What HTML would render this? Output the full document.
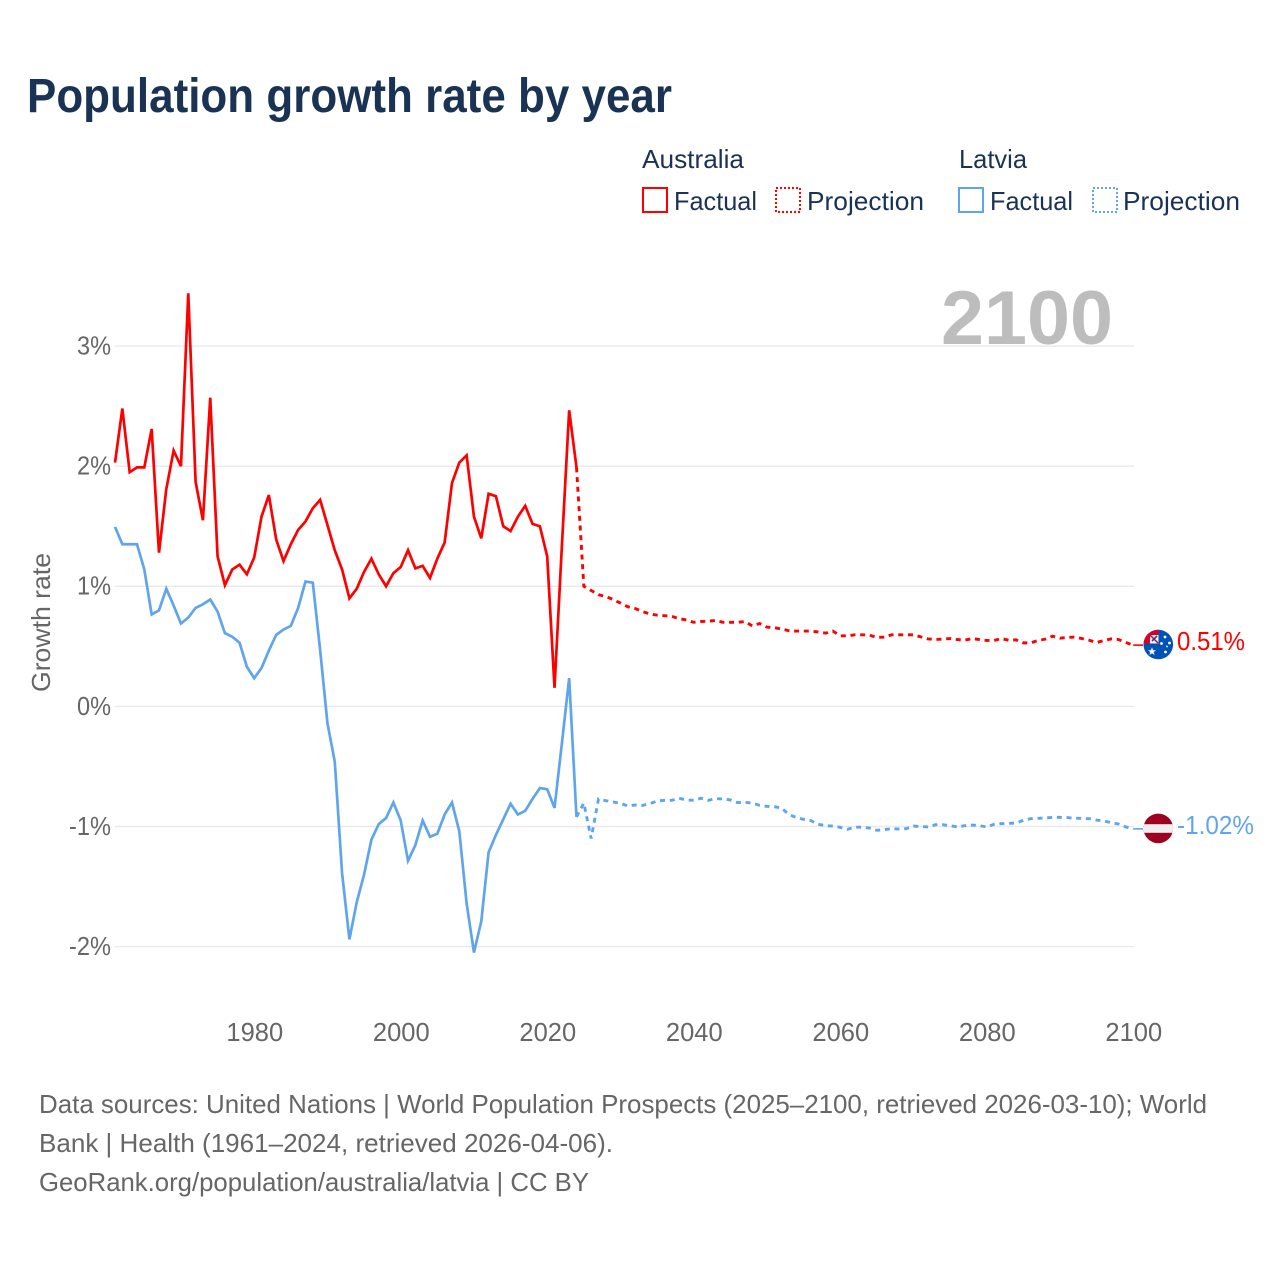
<!DOCTYPE html>
<html lang="en">
<head>
<meta charset="utf-8">
<title>Population growth rate by year</title>
<style>
html,body{margin:0;padding:0;background:#fff;width:1280px;height:1280px;overflow:hidden}
svg{display:block}
text{font-family:"Liberation Sans",Arial,sans-serif}
</style>
</head>
<body>
<svg id="chart" width="1280" height="1280" viewBox="0 0 1280 1280" xmlns="http://www.w3.org/2000/svg">
  <text x="27" y="112" font-size="48" font-weight="700" fill="#1a3354" textLength="645" lengthAdjust="spacingAndGlyphs">Population growth rate by year</text>

  <g font-size="26" fill="#1a3354">
    <text x="642" y="168" textLength="102" lengthAdjust="spacingAndGlyphs">Australia</text>
    <text x="959" y="168" textLength="68" lengthAdjust="spacingAndGlyphs">Latvia</text>
    <rect x="643" y="188" width="24" height="24" fill="none" stroke="#ff0000" stroke-width="2"/>
    <text x="674" y="210" textLength="83" lengthAdjust="spacingAndGlyphs">Factual</text>
    <rect x="776" y="188" width="24" height="24" fill="none" stroke="#ff0000" stroke-width="2" stroke-dasharray="2 2"/>
    <text x="807" y="210" textLength="117" lengthAdjust="spacingAndGlyphs">Projection</text>
    <rect x="959" y="188" width="24" height="24" fill="none" stroke="#60a5ec" stroke-width="2"/>
    <text x="990" y="210" textLength="83" lengthAdjust="spacingAndGlyphs">Factual</text>
    <rect x="1093" y="188" width="24" height="24" fill="none" stroke="#60a5ec" stroke-width="2" stroke-dasharray="2 2"/>
    <text x="1123" y="210" textLength="117" lengthAdjust="spacingAndGlyphs">Projection</text>
  </g>

  <g id="grid"></g>
  <g id="yTicks"></g>
  <g id="xTicks"></g>

  <text transform="translate(50,692) rotate(-90)" font-size="26" fill="#666666" textLength="139" lengthAdjust="spacingAndGlyphs">Growth rate</text>

  <text x="941" y="344" font-size="76" font-weight="700" fill="#bdbdbd" textLength="172" lengthAdjust="spacingAndGlyphs">2100</text>

  <g id="series"></g>

  <defs>
    <clipPath id="flagClipAu"><circle cx="1158.3" cy="644.5" r="14.8"/></clipPath>
    <clipPath id="flagClipLv"><circle cx="1158.3" cy="828.4" r="14.8"/></clipPath>
  </defs>

  <g clip-path="url(#flagClipAu)">
    <rect x="1143" y="629" width="31" height="32" fill="#0052b4"/>
    <rect x="1143" y="629" width="15.5" height="14.5" fill="#d80027"/>
    <rect x="1150" y="635" width="8.5" height="8.5" fill="#f4f4f4"/>
    <path d="M1150 635 L1158 643" stroke="#d80027" stroke-width="1.5"/>
    <path d="M1152 641 L1157 636" stroke="#0052b4" stroke-width="1.6"/>
    <polygon points="1152,647.3 1153.1,650.2 1156,650.2 1153.7,652.1 1154.6,655 1152,653.3 1149.4,655 1150.3,652.1 1148,650.2 1150.9,650.2" fill="#fff"/>
    <circle cx="1165.5" cy="652" r="1.4" fill="#fff"/>
    <circle cx="1169.5" cy="643" r="1.4" fill="#fff"/>
    <circle cx="1165" cy="637" r="1.4" fill="#fff"/>
    <circle cx="1161.5" cy="643.5" r="1.4" fill="#fff"/>
    <circle cx="1167" cy="646.5" r="0.9" fill="#fff"/>
  </g>

  <g clip-path="url(#flagClipLv)">
    <rect x="1143" y="813" width="31" height="31" fill="#9e0022"/>
    <rect x="1143" y="824.2" width="31" height="8.6" fill="#efefef"/>
  </g>

  <g id="endLabels"></g>

  <g font-size="26" fill="#666666">
    <text x="39" y="1113" textLength="1168" lengthAdjust="spacingAndGlyphs">Data sources: United Nations | World Population Prospects (2025–2100, retrieved 2026-03-10); World</text>
    <text x="39" y="1152" textLength="574" lengthAdjust="spacingAndGlyphs">Bank | Health (1961–2024, retrieved 2026-04-06).</text>
    <text x="39" y="1191" textLength="550" lengthAdjust="spacingAndGlyphs">GeoRank.org/population/australia/latvia | CC BY</text>
  </g>
</svg>

<script>
const yTickValues = [3, 2, 1, 0, -1, -2];
const yTickLabels = ['3%', '2%', '1%', '0%', '-1%', '-2%'];
const xTickValues = [1980, 2000, 2020, 2040, 2060, 2080, 2100];
const xTickLabels = ['1980', '2000', '2020', '2040', '2060', '2080', '2100'];

const factualStartYear = 1961;
const projectionStartYear = 2024;

const australiaFactual = [
  2.03, 2.48, 1.95, 1.99, 1.99, 2.31, 1.28, 1.81, 2.13, 2.00,
  3.44, 1.87, 1.55, 2.57, 1.25, 1.01, 1.14, 1.18, 1.10, 1.24,
  1.58, 1.76, 1.39, 1.21, 1.35, 1.47, 1.54, 1.65, 1.72, 1.51,
  1.30, 1.14, 0.90, 0.98, 1.12, 1.23, 1.10, 1.00, 1.11, 1.16,
  1.30, 1.15, 1.17, 1.07, 1.23, 1.365, 1.86, 2.03, 2.09, 1.58,
  1.40, 1.77, 1.75, 1.50, 1.46, 1.58, 1.67, 1.52, 1.50, 1.25,
  0.155, 1.33, 2.465, 1.99
];
const latviaFactual = [
  1.495, 1.35, 1.35, 1.35, 1.14, 0.765, 0.80, 0.98, 0.84, 0.69,
  0.74, 0.82, 0.85, 0.89, 0.79, 0.61, 0.58, 0.53, 0.33, 0.235,
  0.32, 0.465, 0.595, 0.64, 0.67, 0.82, 1.04, 1.03, 0.47, -0.14,
  -0.46, -1.39, -1.94, -1.63, -1.40, -1.11, -0.98, -0.93, -0.80, -0.95,
  -1.285, -1.155, -0.95, -1.085, -1.06, -0.90, -0.80, -1.04, -1.64, -2.05,
  -1.79, -1.215, -1.07, -0.94, -0.81, -0.90, -0.87, -0.77, -0.68, -0.69,
  -0.845, -0.31, 0.235, -0.92
];
const australiaProjection = [
  1.99, 1.00, 0.965, 0.93, 0.915, 0.89, 0.86, 0.83, 0.815, 0.79,
  0.77, 0.76, 0.755, 0.75, 0.73, 0.72, 0.70, 0.707, 0.71, 0.715,
  0.70, 0.70, 0.70, 0.707, 0.67, 0.69, 0.66, 0.655, 0.645, 0.63,
  0.627, 0.627, 0.627, 0.62, 0.61, 0.627, 0.588, 0.588, 0.596, 0.596,
  0.593, 0.574, 0.577, 0.596, 0.596, 0.596, 0.596, 0.579, 0.562, 0.557,
  0.560, 0.565, 0.557, 0.551, 0.565, 0.557, 0.549, 0.549, 0.565, 0.551,
  0.554, 0.529, 0.529, 0.549, 0.560, 0.585, 0.568, 0.574, 0.577, 0.565,
  0.551, 0.532, 0.549, 0.562, 0.557, 0.532, 0.51
];
const latviaProjection = [
  -0.92, -0.805, -1.10, -0.771, -0.785, -0.796, -0.807, -0.829, -0.821, -0.824,
  -0.810, -0.788, -0.782, -0.782, -0.765, -0.779, -0.782, -0.765, -0.782, -0.768,
  -0.771, -0.779, -0.801, -0.799, -0.804, -0.824, -0.832, -0.835, -0.846, -0.901,
  -0.924, -0.940, -0.951, -0.982, -0.993, -0.996, -1.007, -1.024, -1.004, -1.007,
  -1.013, -1.032, -1.026, -1.018, -1.021, -1.018, -0.996, -1.001, -1.004, -0.985,
  -0.985, -0.993, -1.004, -0.993, -0.988, -0.993, -1.004, -0.982, -0.976, -0.974,
  -0.971, -0.949, -0.935, -0.932, -0.929, -0.924, -0.924, -0.926, -0.932, -0.932,
  -0.935, -0.946, -0.954, -0.968, -0.979, -1.004, -1.02
];
const endValues = [0.51, -1.02];
const endLabels = ['0.51%', '-1.02%'];

const svgNS = 'http://www.w3.org/2000/svg';
const RED = '#ff0000';
const BLUE = '#60a5ec';

function xScale(year) { return 254.2 + (year - 1980) * 7.325; }
function yScale(value) { return 706.4 - value * 120.1; }

function makeEl(tag, parentId, attrs) {
  const el = document.createElementNS(svgNS, tag);
  Object.keys(attrs).forEach(function (k) { el.setAttribute(k, attrs[k]); });
  document.getElementById(parentId).appendChild(el);
  return el;
}

function linePath(startYear, values) {
  return values.map(function (v, i) {
    return (i === 0 ? 'M' : 'L') + xScale(startYear + i).toFixed(2) + ' ' + yScale(v).toFixed(2);
  }).join(' ');
}

yTickValues.forEach(function (v, i) {
  const line = makeEl('line', 'grid', {
    x1: 115, x2: 1134, y1: yScale(v), y2: yScale(v),
    stroke: '#e9e9e9', 'stroke-width': 1.4
  });
  
  

  const label = makeEl('text', 'yTicks', {
    x: 111, y: yScale(v) + 8.4, 'text-anchor': 'end', 'font-size': 26, fill: '#666666',
    textLength: yTickLabels[i].length === 2 ? 34 : 42, lengthAdjust: 'spacingAndGlyphs'
  });
  label.textContent = yTickLabels[i];
  
  
});

xTickValues.forEach(function (v, i) {
  const label = makeEl('text', 'xTicks', {
    x: xScale(v) + 0.6, y: 1041, 'text-anchor': 'middle', 'font-size': 25.5, fill: '#666666'
  });
  label.textContent = xTickLabels[i];
  
  
});

const auFactualLine = makeEl('path', 'series', {
  d: linePath(factualStartYear, australiaFactual), fill: 'none', stroke: RED,
  'stroke-width': 2.7, 'stroke-linejoin': 'miter'
});



const lvFactualLine = makeEl('path', 'series', {
  d: linePath(factualStartYear, latviaFactual), fill: 'none', stroke: BLUE,
  'stroke-width': 2.7, 'stroke-linejoin': 'miter'
});



const auProjectionLine = makeEl('path', 'series', {
  d: linePath(projectionStartYear, australiaProjection), fill: 'none', stroke: RED,
  'stroke-width': 2.9, 'stroke-dasharray': '5 4.7'
});



const lvProjectionLine = makeEl('path', 'series', {
  d: linePath(projectionStartYear, latviaProjection), fill: 'none', stroke: BLUE,
  'stroke-width': 2.9, 'stroke-dasharray': '5 4.7'
});



const endColors = [RED, BLUE];
endValues.forEach(function (v, i) {
  const stub = makeEl('line', 'series', {
    x1: xScale(2100), x2: 1143, y1: yScale(v), y2: yScale(v),
    stroke: endColors[i], 'stroke-width': 1.6
  });
  
  

  const label = makeEl('text', 'endLabels', {
    x: 1177, y: yScale(v) + 5, 'font-size': 26, fill: endColors[i],
    textLength: endLabels[i].length === 5 ? 68 : 77, lengthAdjust: 'spacingAndGlyphs'
  });
  label.textContent = endLabels[i];
  
  
});
</script>
</body>
</html>
